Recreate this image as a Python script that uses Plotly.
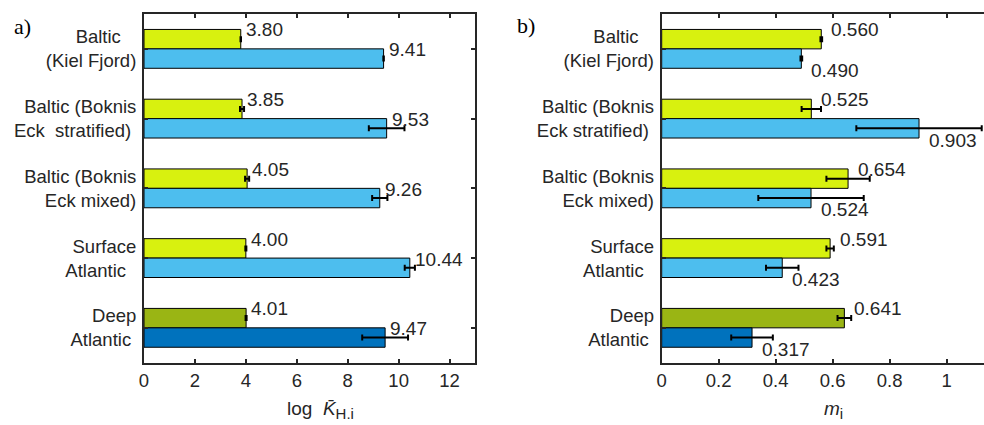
import plotly.graph_objects as go

NB = "\u00a0"

# ---- data ----
labels_a = [
    ("Baltic" + NB * 3, "(Kiel Fjord)"),
    ("Baltic (Boknis", "Eck" + NB * 2 + "stratified)" + NB),
    ("Baltic (Boknis", "Eck mixed)"),
    ("Surface", "Atlantic" + NB * 2),
    ("Deep", "Atlantic" + NB),
]
labels_b = [
    ("Baltic" + NB * 3, "(Kiel Fjord)"),
    ("Baltic (Boknis", "Eck stratified)" + NB),
    ("Baltic (Boknis", "Eck mixed)"),
    ("Surface", "Atlantic" + NB * 2),
    ("Deep", "Atlantic" + NB),
]

logK_upper = [3.80, 3.85, 4.05, 4.00, 4.01]
logK_upper_err = [0.01, 0.08, 0.08, 0.02, 0.02]
logK_lower = [9.41, 9.53, 9.26, 10.44, 9.47]
logK_lower_err = [0.01, 0.70, 0.30, 0.20, 0.90]

m_upper = [0.560, 0.525, 0.654, 0.591, 0.641]
m_upper_err = [0.003, 0.034, 0.076, 0.013, 0.024]
m_lower = [0.490, 0.903, 0.524, 0.423, 0.317]
m_lower_err = [0.003, 0.220, 0.185, 0.057, 0.073]

# ---- style ----
upper_colors = ["#d8f10f", "#d8f10f", "#d8f10f", "#d8f10f", "#9ab514"]
lower_colors = ["#4dbeee", "#4dbeee", "#4dbeee", "#4dbeee", "#0072bd"]
FONT = "Arial, Liberation Sans, sans-serif"
TXT = "#262626"
FS = 19

pos = list(range(1, len(logK_upper) + 1))

fig = go.Figure()


def add_pair(upper, uerr, lower, lerr, xa, ya):
    fig.add_trace(go.Bar(
        y=pos, x=upper, orientation="h", xaxis=xa, yaxis=ya,
        marker=dict(color=upper_colors, line=dict(color="#000000", width=1)),
        error_x=dict(type="data", array=uerr, color="#000000", thickness=2, width=3),
        showlegend=False, hoverinfo="x"))
    fig.add_trace(go.Bar(
        y=pos, x=lower, orientation="h", xaxis=xa, yaxis=ya,
        marker=dict(color=lower_colors, line=dict(color="#000000", width=1)),
        error_x=dict(type="data", array=lerr, color="#000000", thickness=2, width=3),
        showlegend=False, hoverinfo="x"))


add_pair(logK_upper, logK_upper_err, logK_lower, logK_lower_err, "x", "y")
add_pair(m_upper, m_upper_err, m_lower, m_lower_err, "x2", "y2")

annotations = []
for p, v in zip(pos, logK_upper):
    annotations.append(dict(x=v, y=p, xref="x", yref="y", text=f"{v:.2f}",
                            xanchor="left", yanchor="middle", xshift=3, yshift=19,
                            showarrow=False, font=dict(size=FS, color=TXT, family=FONT)))
for p, v in zip(pos, logK_lower):
    annotations.append(dict(x=v, y=p, xref="x", yref="y", text=f"{v:.2f}",
                            xanchor="left", yanchor="middle", xshift=3, yshift=-1,
                            showarrow=False, font=dict(size=FS, color=TXT, family=FONT)))
for p, v in zip(pos, m_upper):
    annotations.append(dict(x=v, y=p, xref="x2", yref="y2", text=f"{v:.3f}",
                            xanchor="left", yanchor="middle", xshift=7.5, yshift=19,
                            showarrow=False, font=dict(size=FS, color=TXT, family=FONT)))
for p, v in zip(pos, m_lower):
    annotations.append(dict(x=v, y=p, xref="x2", yref="y2", text=f"{v:.3f}",
                            xanchor="left", yanchor="middle", xshift=7.5, yshift=-21.5,
                            showarrow=False, font=dict(size=FS, color=TXT, family=FONT)))

# panel letters
annotations.append(dict(x=22 / 984, y=1 - 27 / 425, xref="paper", yref="paper", text="a)",
                        showarrow=False, xanchor="center", yanchor="middle",
                        font=dict(size=22, color="#000000", family="Times New Roman, Liberation Serif, serif")))
annotations.append(dict(x=526 / 984, y=1 - 26 / 425, xref="paper", yref="paper", text="b)",
                        showarrow=False, xanchor="center", yanchor="middle",
                        font=dict(size=22, color="#000000", family="Times New Roman, Liberation Serif, serif")))
# axis titles
annotations.append(dict(x=320 / 984, y=1 - 410 / 425, xref="paper", yref="paper",
                        text="log" + NB + NB + "<i>K\u0304</i><sub><span style='font-size:15px'>H.i</span></sub>",
                        showarrow=False, xanchor="center", yanchor="middle",
                        font=dict(size=FS, color=TXT, family=FONT)))
annotations.append(dict(x=833 / 984, y=1 - 410 / 425, xref="paper", yref="paper",
                        text="<i>m</i><sub><span style='font-size:15px'>i</span></sub>",
                        showarrow=False, xanchor="center", yanchor="middle",
                        font=dict(size=FS, color=TXT, family=FONT)))

axis_common = dict(showgrid=False, zeroline=False, showline=True, linecolor=TXT, linewidth=2,
                   ticks="inside", ticklen=4, tickwidth=1.5, tickcolor=TXT, automargin=False,
                   tickfont=dict(size=18.5, color=TXT, family=FONT))

ydom = [1 - 362.7 / 425, 1 - 14 / 425]

fig.update_layout(
    template="none",
    width=984, height=425,
    margin=dict(l=0, r=0, t=0, b=0, pad=0, autoexpand=False),
    paper_bgcolor="white", plot_bgcolor="white",
    barmode="group", bargap=0.443, bargroupgap=0,
    font=dict(family=FONT, color=TXT),
    xaxis=dict(domain=[144 / 984, 475 / 984], anchor="y", range=[0, 13], dtick=2, tick0=0,
               mirror="ticks", **axis_common),
    yaxis=dict(domain=ydom, anchor="x", range=[5.5, 0.5], tickvals=pos,
               ticktext=[a + "<br>" + b for a, b in labels_a], mirror="ticks",
               ticklabelstandoff=2, **axis_common),
    xaxis2=dict(domain=[661.7 / 984, 1.0], anchor="y2", range=[0, 1.131], dtick=0.2, tick0=0,
                mirror="ticks", **axis_common),
    yaxis2=dict(domain=ydom, anchor="x2", range=[5.5, 0.5], tickvals=pos,
                ticktext=[a + "<br>" + b for a, b in labels_b], mirror=False,
                ticklabelstandoff=2, **axis_common),
    annotations=annotations,
)

fig.write_html(
    "out.html",
    config={"displayModeBar": False},
    post_script="document.body.style.margin='0';document.body.style.padding='0';"
                "document.body.style.overflow='hidden';",
)
